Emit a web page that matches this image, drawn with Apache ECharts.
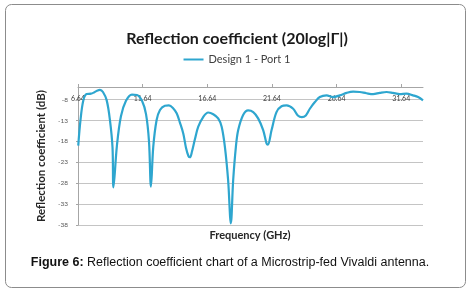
<!DOCTYPE html>
<html><head><meta charset="utf-8">
<script src="https://cdn.jsdelivr.net/npm/echarts@6/dist/echarts.min.js"></script>
<style>html,body{margin:0;padding:0;background:#fff}#c{width:474px;height:293px}</style>
</head><body><div id="c"></div>
<script>
var chartTitle = 'Reflection coefficient (20log|Γ|)';
var seriesName = 'Design 1 - Port 1';
var xName = 'Frequency (GHz)';
var yName = 'Reflection coefficient (dB)';
var caption = 'Reflection coefficient chart of a Microstrip-fed Vivaldi antenna.';
var freq = [6.66,6.83,7.05,7.31,7.64,7.88,8.11,8.34,8.57,8.86,9.11,9.31,9.38,9.65,9.96,10.35,10.81,11.2,11.59,11.9,12.13,12.28,12.46,12.72,12.98,13.36,13.67,13.98,14.27,14.52,14.78,14.99,15.18,15.3,15.45,15.68,15.94,16.32,16.71,17.1,17.48,17.75,18.0,18.25,18.46,18.64,18.85,19.03,19.41,19.8,20.19,20.57,20.96,21.22,21.32,21.61,21.99,22.38,22.77,23.28,23.64,23.95,24.26,24.57,24.96,25.34,25.86,26.37,26.89,27.41,27.92,28.43,28.95,29.46,29.98,30.5,30.99,31.52,32.04,32.55,32.94,33.32];
var refl = [-19,-13,-8.2,-6.7,-6.6,-6.3,-5.9,-5.7,-6.2,-8.2,-12.9,-19.5,-29,-19,-12,-8.3,-6.8,-6.9,-8.3,-11.5,-18,-28.8,-19.3,-12.9,-10.5,-9.5,-9.4,-10,-11.3,-13.5,-16.1,-19.5,-21.5,-21.8,-20.5,-17.5,-14.5,-12.2,-11.1,-11.5,-12.5,-14.5,-19.3,-27.3,-37.6,-27.3,-19.3,-15.3,-11.7,-10.6,-11,-12.5,-15.3,-18.5,-18.8,-15.3,-11,-9.6,-9.4,-10.2,-11.8,-12.2,-11.8,-10.2,-8.6,-7.4,-7,-7.4,-7,-6.4,-6.1,-6.2,-6.5,-6.7,-6.4,-6.2,-6.4,-6.7,-6.6,-7,-7.4,-8.2];
var xMin = 6.64, xMax = 33.32, xStep = 5;
var yMin = -38, yMax = -5, yStep = 5;

var data = freq.map(function(f,i){return [f, refl[i]];});
var chart = echarts.init(document.getElementById('c'), null, {renderer:'canvas'});
chart.setOption({
  animation:false,
  backgroundColor:'#fff',
  title:{text:chartTitle,left:'center',top:26,
    textStyle:{fontFamily:'Lato',fontWeight:'bold',fontSize:16,color:'#1a1a1a'}},
  legend:{top:49,left:'center',itemWidth:20,itemHeight:2,itemGap:4,icon:'rect',
    textStyle:{fontFamily:'Lato',fontSize:11,color:'#404040'},data:[seriesName]},
  grid:{left:78,top:87,right:51,bottom:68},
  xAxis:{type:'value',position:'top',min:xMin,max:xMax,interval:xStep,
    axisLine:{show:true,lineStyle:{color:'#a6a6a6'}},
    axisTick:{show:true,inside:false,length:3,lineStyle:{color:'#a6a6a6'}},
    axisLabel:{inside:true,margin:8,fontFamily:'Lato',fontSize:7,color:'#404040',showMaxLabel:false,
      formatter:function(v){return v.toFixed(2);}},
    splitLine:{show:false}},
  yAxis:{type:'value',min:yMin,max:yMax,interval:yStep,
    name:yName,nameLocation:'middle',nameRotate:90,nameGap:27,
    nameTextStyle:{fontFamily:'Lato',fontWeight:'bold',fontSize:11.5,color:'#262626'},
    axisLine:{show:true,lineStyle:{color:'#a6a6a6'}},
    axisTick:{show:true,length:2,lineStyle:{color:'#a6a6a6'}},
    axisLabel:{margin:10,fontFamily:'Lato',fontSize:6.5,color:'#595959',showMaxLabel:false},
    splitLine:{lineStyle:{color:'#c4c4c4',width:1.2}}},
  series:[{name:seriesName,type:'line',data:data,symbol:'none',smooth:0.35,
    lineStyle:{color:'#2ea6cf',width:2.2},itemStyle:{color:'#2ea6cf'}}],
  graphic:[
    {type:'rect',shape:{x:5.5,y:4.5,width:460,height:283,r:6},style:{fill:'none',stroke:'#8c8c8c',lineWidth:1},silent:true},
    {type:'text',x:250,y:235,style:{text:xName,fontFamily:'Lato',fontWeight:'bold',fontSize:11,fill:'#262626',align:'center',verticalAlign:'middle'}},
    {type:'text',x:230,y:263,style:{text:'{b|Figure 6:} '+caption,align:'center',verticalAlign:'middle',
      rich:{b:{fontFamily:'Liberation Sans',fontWeight:'bold',fontSize:12.5,fill:'#111'}},
      fontFamily:'Liberation Sans',fontSize:12.5,fill:'#111'}}
  ]
});
</script></body></html>
